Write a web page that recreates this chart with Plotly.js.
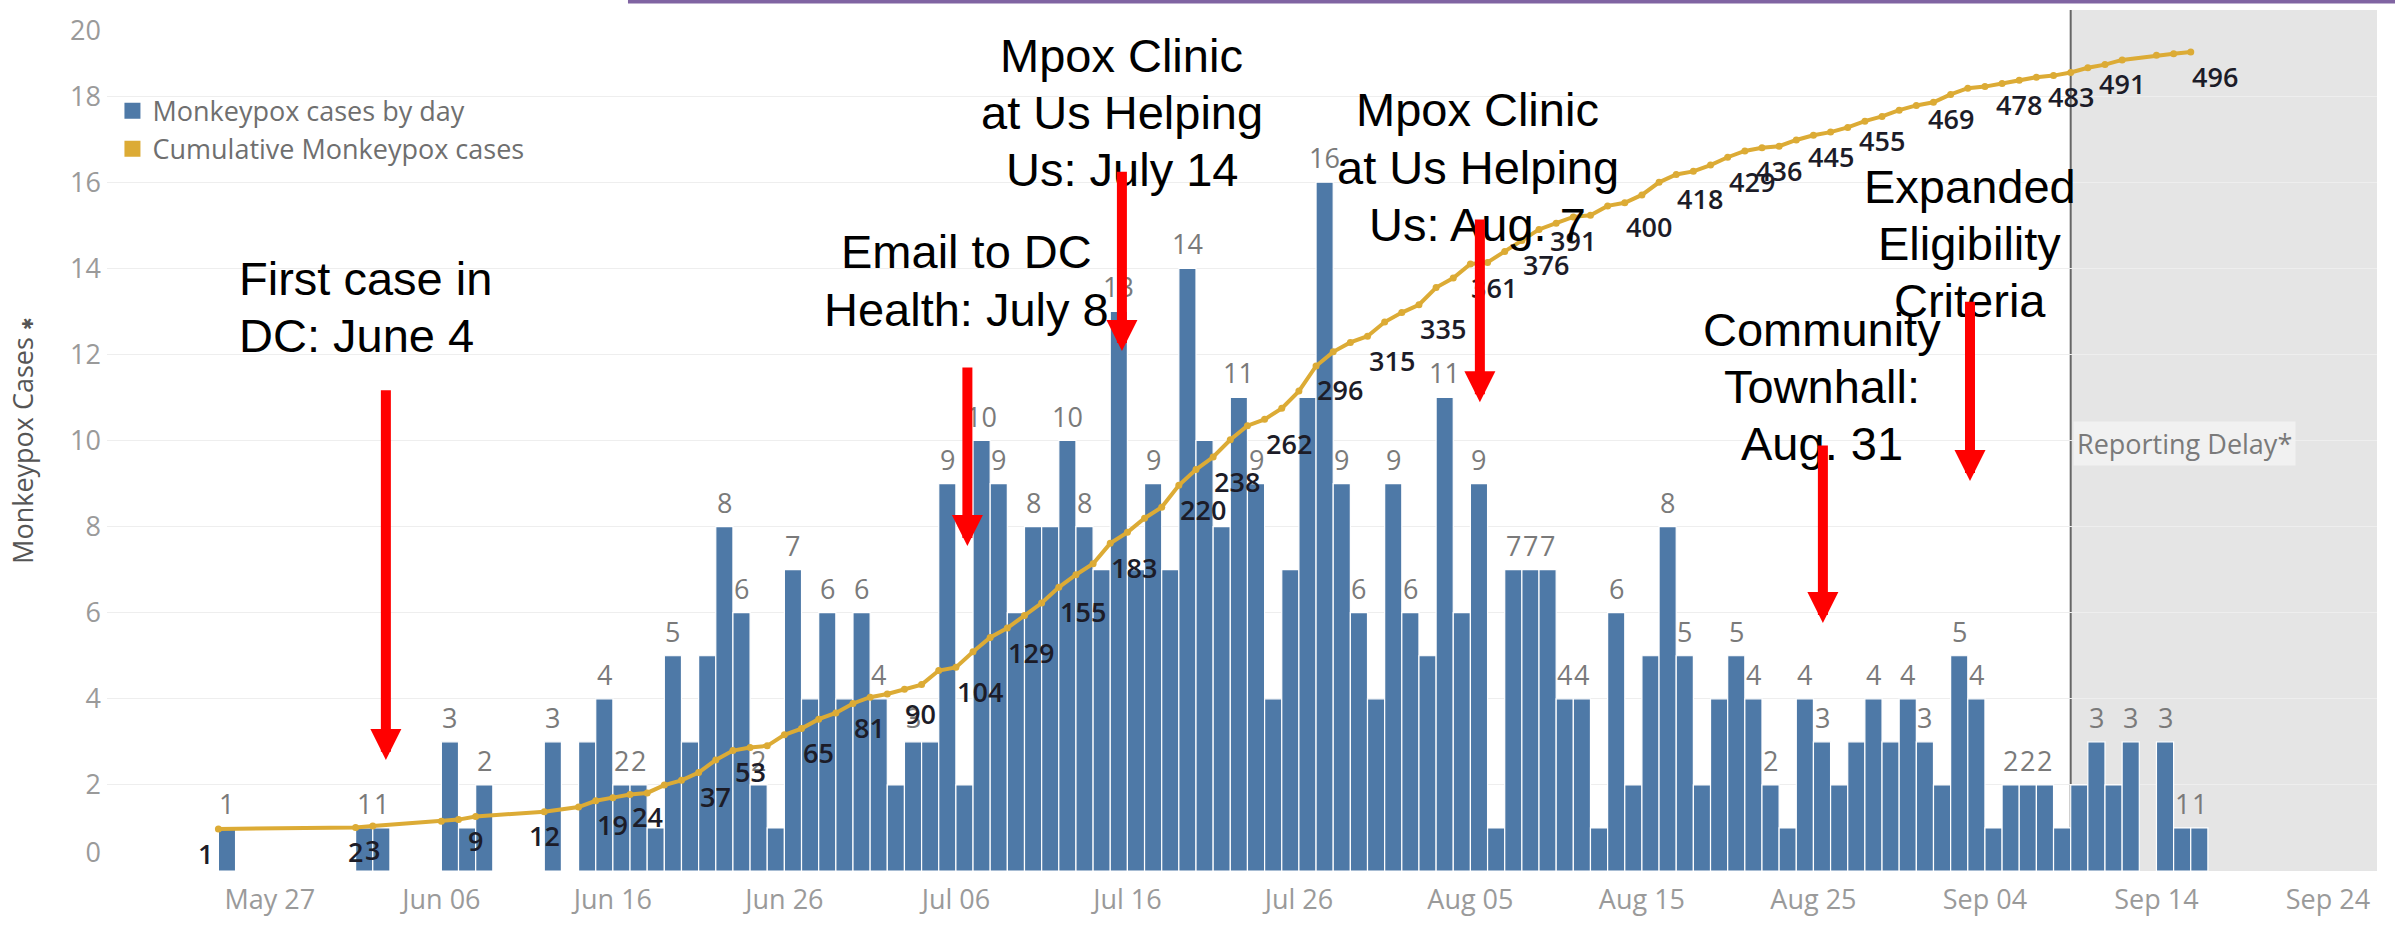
<!DOCTYPE html>
<html>
<head>
<meta charset="utf-8">
<script src="https://cdn.plot.ly/plotly-3.0.1.min.js"></script>
<style>
html,body{margin:0;padding:0;background:#ffffff;}
#chart{width:2395px;height:929px;}
</style>
</head>
<body>
<div id="chart"></div>
<script>
// ---------------- DATA ----------------
const dates = [
'2022-05-24',
'2022-06-01','2022-06-02',
'2022-06-06','2022-06-07','2022-06-08',
'2022-06-12',
'2022-06-14','2022-06-15','2022-06-16','2022-06-17','2022-06-18','2022-06-19','2022-06-20','2022-06-21',
'2022-06-22','2022-06-23','2022-06-24','2022-06-25','2022-06-26','2022-06-27','2022-06-28','2022-06-29','2022-06-30',
'2022-07-01','2022-07-02','2022-07-03','2022-07-04','2022-07-05','2022-07-06','2022-07-07','2022-07-08',
'2022-07-09','2022-07-10','2022-07-11','2022-07-12','2022-07-13','2022-07-14','2022-07-15','2022-07-16',
'2022-07-17','2022-07-18','2022-07-19','2022-07-20','2022-07-21','2022-07-22','2022-07-23','2022-07-24',
'2022-07-25','2022-07-26','2022-07-27','2022-07-28','2022-07-29','2022-07-30','2022-07-31',
'2022-08-01','2022-08-02','2022-08-03','2022-08-04','2022-08-05','2022-08-06','2022-08-07','2022-08-08',
'2022-08-09','2022-08-10','2022-08-11','2022-08-12','2022-08-13','2022-08-14','2022-08-15','2022-08-16',
'2022-08-17','2022-08-18','2022-08-19','2022-08-20','2022-08-21','2022-08-22','2022-08-23','2022-08-24',
'2022-08-25','2022-08-26','2022-08-27','2022-08-28','2022-08-29','2022-08-30','2022-08-31',
'2022-09-01','2022-09-02','2022-09-03','2022-09-04','2022-09-05','2022-09-06','2022-09-07','2022-09-08',
'2022-09-09','2022-09-10','2022-09-11','2022-09-12','2022-09-14','2022-09-15','2022-09-16'
];
const cases = [
1,
1,1,
3,1,2,
3,
3,4,2,2,1,5,3,5,
8,6,2,1,7,4,6,4,6,
4,2,3,3,9,2,10,9,
6,8,8,10,8,7,13,7,
9,7,14,10,8,11,9,4,
7,11,16,9,6,4,9,
6,5,11,6,9,1,7,7,
7,4,4,1,6,2,5,8,
5,2,4,5,4,2,1,4,
3,2,3,4,3,4,3,
2,5,4,1,2,2,2,1,
2,3,2,3,3,1,1
];
// days whose daily value label is visible
const valueLabelDates = ['2022-05-24','2022-06-01','2022-06-02','2022-06-06','2022-06-08','2022-06-12','2022-06-15','2022-06-16',
'2022-06-17','2022-06-19','2022-06-22','2022-06-23','2022-06-24','2022-06-26','2022-06-28','2022-06-30','2022-07-01','2022-07-03',
'2022-07-05','2022-07-07','2022-07-08','2022-07-10','2022-07-12','2022-07-13','2022-07-15','2022-07-17','2022-07-19','2022-07-22',
'2022-07-23','2022-07-27','2022-07-28','2022-07-29','2022-07-31','2022-08-01','2022-08-03','2022-08-05','2022-08-07','2022-08-08',
'2022-08-09','2022-08-10','2022-08-11','2022-08-13','2022-08-16','2022-08-17','2022-08-20','2022-08-21','2022-08-22','2022-08-24',
'2022-08-25','2022-08-28','2022-08-30','2022-08-31','2022-09-02','2022-09-03','2022-09-05','2022-09-06','2022-09-07','2022-09-10',
'2022-09-12','2022-09-14','2022-09-15','2022-09-16'];
// days whose cumulative label is visible, and how each label sits next to its point
const cumLabelDates = ['2022-05-24','2022-06-01','2022-06-02','2022-06-08','2022-06-12','2022-06-15','2022-06-18','2022-06-21',
'2022-06-24','2022-06-27','2022-06-30','2022-07-03','2022-07-06','2022-07-09','2022-07-12','2022-07-15','2022-07-19','2022-07-21',
'2022-07-24','2022-07-27','2022-07-30','2022-08-02','2022-08-05','2022-08-08','2022-08-11','2022-08-14','2022-08-17','2022-08-20',
'2022-08-23','2022-08-26','2022-08-29','2022-09-02','2022-09-06','2022-09-09','2022-09-12','2022-09-16'];
const cumLabelAlign = ['right','center','center','center','center','left','center','left','center','left','left','left','left',
'left','left','left','left','left','left','left','left','left','left','left','center','left','left','left','center','center',
'center','center','center','center','center','left'];
const seriesNames = ['Monkeypox cases by day','Cumulative Monkeypox cases'];
const yTickVals = [0,2,4,6,8,10,12,14,16,18,20];
const yTickText = ['','2','4','6','8','10','12','14','16','18',''];
const reportingDelayStart = '2022-09-09';

// ---------------- STYLE ----------------
const BLUE = '#4e79a7';
const GOLD = '#dcab35';
const TFONT = 'Open Sans, Noto Sans, sans-serif';
const AFONT = 'Liberation Sans, Arial, sans-serif';
const X_END = '2022-09-26 20:38';
const TICKFONT = {family:TFONT, size:27, color:'#9a9a9a'};

// derived
const cumulative = [];
let run = 0;
cases.forEach(c => { run += c; cumulative.push(run); });
const idx = {};
dates.forEach((d, i) => { idx[d] = i; });
const barX = dates.map(d => d + ' 12:00');

const traces = [
  {type:'bar', x:barX, y:cases, width:86400000, name:seriesNames[0], showlegend:false,
   marker:{color:BLUE, line:{color:'#ffffff', width:1.2}}, hoverinfo:'skip'},
  {type:'scatter', mode:'lines+markers', x:dates, y:cumulative, yaxis:'y2', name:seriesNames[1], showlegend:false,
   line:{color:GOLD, width:4}, marker:{color:GOLD, size:7}, hoverinfo:'skip'},
  {type:'scatter', mode:'markers', x:[null], y:[null], yaxis:'y3', name:seriesNames[0], marker:{symbol:'square', size:16, color:BLUE}},
  {type:'scatter', mode:'markers', x:[null], y:[null], yaxis:'y4', name:seriesNames[1], marker:{symbol:'square', size:16, color:GOLD}}
];

const annotations = [];
// daily value labels
valueLabelDates.forEach(d => {
  const i = idx[d];
  annotations.push({x:d + ' 12:00', y:cases[i], xref:'x', yref:'y', text:String(cases[i]), showarrow:false,
    yanchor:'bottom', xanchor:'center', yshift:4, font:{family:TFONT, size:27, color:'#7a7a7a'}});
});
// cumulative labels
cumLabelDates.forEach((d, k) => {
  const i = idx[d];
  const a = cumLabelAlign[k];
  annotations.push({x:d, y:cumulative[i], xref:'x', yref:'y2', text:String(cumulative[i]), showarrow:false,
    xanchor:a, yanchor:'middle', yshift:-24, xshift:(a === 'right' ? -3 : (a === 'left' ? -1 : 0)),
    font:{family:TFONT, size:27, color:'#1c1c28', weight:600}});
});
// event notes (one annotation per line)
const notes = [
  {lines:['First case in','DC: June 4'], x:'2022-05-25 01:49', y:13.77, anchor:'left'},
  {lines:['Email to DC','Health: July 8'], x:'2022-07-06 15:22', y:14.38, anchor:'center'},
  {lines:['Mpox Clinic','at Us Helping','Us: July 14'], x:'2022-07-15 16:19', y:18.95, anchor:'center'},
  {lines:['Mpox Clinic','at Us Helping','Us: Aug. 7'], x:'2022-08-05 10:33', y:17.68, anchor:'center'},
  {lines:['Community','Townhall:','Aug. 31'], x:'2022-08-25 12:00', y:12.59, anchor:'center'},
  {lines:['Expanded','Eligibility','Criteria'], x:'2022-09-03 03:05', y:15.91, anchor:'center'}
];
const LINE_STEP = 1.33;
notes.forEach(n => {
  n.lines.forEach((t, j) => {
    annotations.push({x:n.x, y:n.y - j * LINE_STEP, xref:'x', yref:'y', text:t, showarrow:false,
      xanchor:n.anchor, yanchor:'middle', font:{family:AFONT, size:47, color:'#000000'}});
  });
});
// red arrows: tip and tail
const arrows = [
  {x:'2022-06-02 18:20', tail:11.20, tip:2.58},
  {x:'2022-07-06 16:05', tail:11.73, tip:7.55},
  {x:'2022-07-15 16:19', tail:16.28, tip:12.08},
  {x:'2022-08-05 13:14', tail:15.17, tip:10.89},
  {x:'2022-08-25 13:14', tail:9.92, tip:5.76},
  {x:'2022-09-03 03:05', tail:13.26, tip:9.06}
];
arrows.forEach(a => {
  annotations.push({x:a.x, y:a.tip, xref:'x', yref:'y', ax:a.x, ay:a.tail, axref:'x', ayref:'y',
    text:'', showarrow:true, arrowhead:2, arrowsize:0.62, arrowwidth:10, arrowcolor:'#ff0000', standoff:0, startstandoff:0});
});
// reporting delay tag
annotations.push({x:reportingDelayStart, y:9.94, xref:'x', yref:'y', text:'Reporting Delay*', showarrow:false,
  xanchor:'left', yanchor:'middle', xshift:2, bgcolor:'rgba(242,242,242,0.9)', borderpad:3,
  font:{family:TFONT, size:27, color:'#7a7a7a'}});

const shapes = [
  {type:'rect', xref:'x', yref:'paper', x0:reportingDelayStart, x1:X_END, y0:0, y1:1,
   fillcolor:'#e5e5e5', line:{width:0}, layer:'between'},
  {type:'line', xref:'x', yref:'paper', x0:reportingDelayStart, x1:reportingDelayStart, y0:0, y1:1,
   line:{color:'#666666', width:2}, layer:'between'},
  {type:'rect', xref:'paper', yref:'paper', x0:0.2295, x1:1.01, y0:1.0076, y1:1.0125,
   fillcolor:'#8064a2', line:{width:0}, layer:'above'}
];

// edge tick labels sit inside the plot, as in the original (positive shift moves a y label down)
const edgeAxis = (val, shift) => ({overlaying:'y', anchor:'x', side:'left', range:[0,20], tickvals:[val], ticktext:[String(val)],
  showgrid:false, zeroline:false, showline:false, ticks:'', ticklabelstandoff:5, ticklabelshift:shift,
  ticklabeloverflow:'allow', tickfont:TICKFONT});

const layout = {
  width:2395, height:929,
  margin:{l:107, r:18, t:10, b:58, pad:0},
  paper_bgcolor:'#ffffff', plot_bgcolor:'#ffffff',
  font:{family:TFONT, size:27, color:'#777777'},
  bargap:0,
  xaxis:{type:'date', range:['2022-05-17 12:06', X_END], tick0:'2022-05-27', dtick:864000000, tickformat:'%b %d',
    showgrid:false, zeroline:false, showline:false, ticks:'', ticklabelstandoff:10, tickfont:TICKFONT},
  yaxis:{range:[0,20], tickvals:yTickVals, ticktext:yTickText, gridcolor:'#eeeeee', gridwidth:1, zeroline:false,
    showline:false, ticks:'', ticklabelstandoff:5, tickfont:TICKFONT,
    title:{text:'Monkeypox Cases <span style="font-size:15px">\u2731</span>', standoff:28, font:{family:TFONT, size:27, color:'#555555'}}},
  yaxis2:{overlaying:'y', range:[-25.74, 522.8], visible:false},
  yaxis3:edgeAxis(yTickVals[yTickVals.length - 1], 21),
  yaxis4:edgeAxis(yTickVals[0], -18),
  legend:{x:0.0024, y:0.911, xanchor:'left', yanchor:'top', bgcolor:'rgba(0,0,0,0)',
    font:{family:TFONT, size:27, color:'#6f6f6f'}},
  shapes:shapes,
  annotations:annotations
};

Plotly.newPlot('chart', traces, layout, {staticPlot:true, displayModeBar:false});
</script>
</body>
</html>
